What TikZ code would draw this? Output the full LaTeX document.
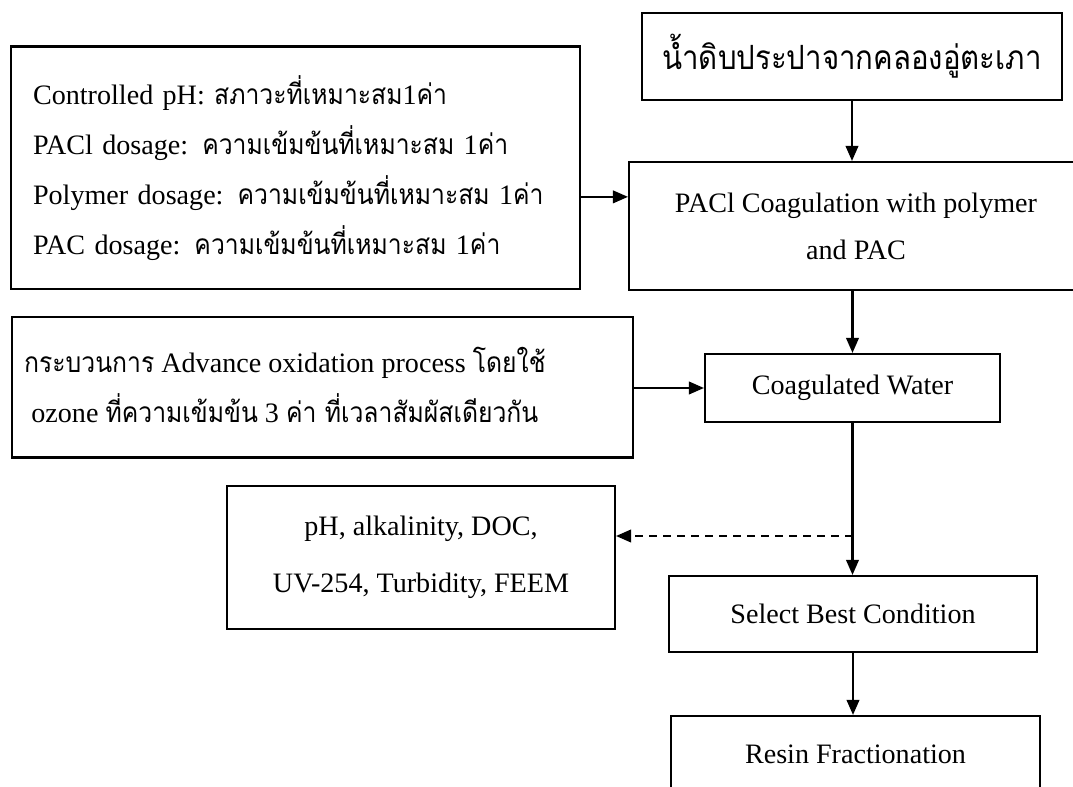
\documentclass[tikz,border=0pt]{standalone}
\usepackage{fontspec}
\setmainfont{Liberation Serif}
\newfontfamily\thai[Script=Thai,FakeStretch=0.88]{Loma}
\usetikzlibrary{arrows.meta,calc}
\begin{document}
\begin{tikzpicture}[x=0.02cm,y=-0.02cm,
  box/.style={draw, line width=1.2pt, inner sep=0pt, align=center,
    font=\fontsize{16pt}{28.5pt}\selectfont},
  flow/.style={line width=1.2pt, -{Triangle[length=0.3cm,width=0.25cm]}},
  probe/.style={flow, dash pattern=on 0.16cm off 0.12cm},
]
\clip (0,0) rectangle (1073,787);
\fill[white] (0,0) rectangle (1073,787);

% process boxes
\node[box, minimum width=8.4cm, minimum height=1.74cm,
  font=\fontsize{19pt}{24pt}\selectfont] (raw) at (852,56.5)
  {\raisebox{-2pt}{\thai น้ำดิบประปาจากคลองอู่ตะเภา}};

\node[box, text width=10.494cm, inner xsep=0.446cm, align=left,
  minimum height=4.85cm] (cond) at (295.35,167.75)
  {Controlled pH: {\thai สภาวะที่เหมาะสม}1{\thai ค่า}\\
   PACl dosage: {\thai ความเข้มข้นที่เหมาะสม} 1{\thai ค่า}\\
   Polymer dosage: {\thai ความเข้มข้นที่เหมาะสม} 1{\thai ค่า}\\
   PAC dosage: {\thai ความเข้มข้นที่เหมาะสม} 1{\thai ค่า}};

\node[box, minimum width=9.08cm, minimum height=2.56cm,
  font=\fontsize{16pt}{26.7pt}\selectfont] (pacl) at (856,226)
  {PACl Coagulation with polymer\\and PAC};

% text block sits left of the box centre
\node[box, minimum width=12.426cm, minimum height=2.81cm] (aop) at (322.35,387.25)
  {\begin{tabular}{@{}c@{}}
   {\thai กระบวนการ} Advance oxidation process {\thai โดยใช้}\\
   ozone {\thai ที่ความเข้มข้น} 3 {\thai ค่า ที่เวลาสัมผัสเดียวกัน}
   \end{tabular}\hspace{1.5cm}};

\node[box, minimum width=5.9cm, minimum height=1.36cm] (coag) at (852.5,388)
  {Coagulated Water};

\node[box, minimum width=7.76cm, minimum height=2.86cm,
  font=\fontsize{16pt}{32.5pt}\selectfont] (meas) at (421,557.5)
  {pH, alkalinity, DOC,\\UV-254, Turbidity, FEEM};

\node[box, minimum width=7.36cm, minimum height=1.52cm] (sel) at (853,614)
  {Select Best Condition};

\node[box, minimum width=7.38cm, minimum height=1.52cm] (resin) at (855.5,754)
  {Resin Fractionation};

% connectors
\draw[flow] (raw.south) -- (raw.south |- pacl.north);
\coordinate (mid) at ($(cond.east)!0.5!(pacl.west)$);
\draw[flow] (cond.east |- mid) -- (pacl.west |- mid);
\draw[flow] (pacl.south -| coag.north) -- (coag.north);
\draw[flow] (aop.east |- coag.west) -- (coag.west);
\draw[flow] (coag.south) -- (coag.south |- sel.north);
\coordinate (tap) at (852.5,536);
\draw[probe] (tap) -- (tap -| meas.east);
\draw[flow] (sel.south) -- (sel.south |- resin.north);
\end{tikzpicture}
\end{document}
